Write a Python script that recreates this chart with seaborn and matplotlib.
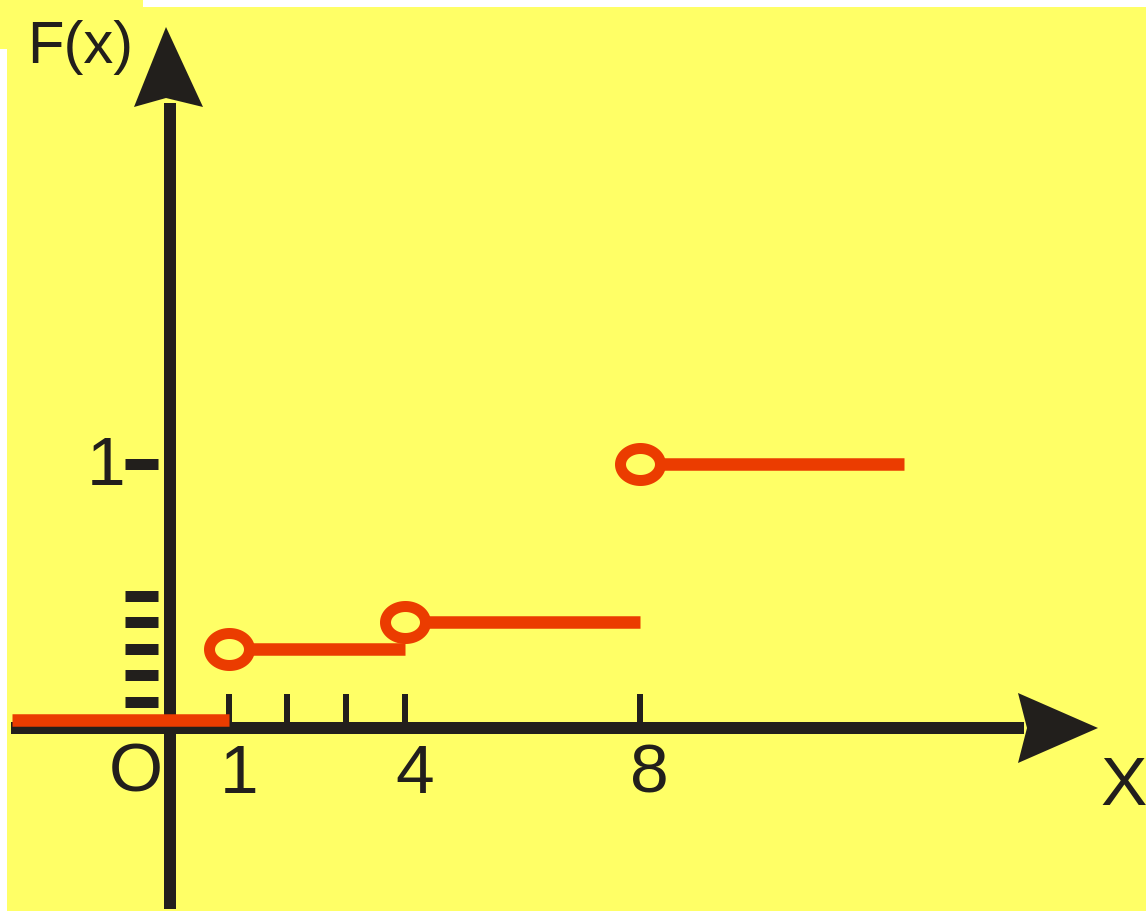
import numpy as np
import matplotlib
matplotlib.use("Agg")
import matplotlib.pyplot as plt
import matplotlib.transforms as mtransforms
from matplotlib import font_manager
from matplotlib.lines import Line2D
from matplotlib.path import Path
from matplotlib.patches import Polygon, Rectangle
import seaborn as sns

# Distribution function F(x) of a discrete random variable
jump_points = [1, 4, 8]
cdf_levels = [0.0, 0.3, 0.4, 1.0]
x_ticks = [1, 2, 3, 4, 8]
x_tick_labels = {1: "1", 4: "4", 8: "8"}
y_ticks = [0.1, 0.2, 0.3, 0.4, 0.5, 1.0]
y_tick_labels = {1.0: "1"}
x_start, x_end = -2.7, 12.5

W, H = 1146, 912
DPI = 100
YELLOW = "#FFFF66"
ORANGE = "#EB3C00"
INK = "#221F1C"
FS = 50


def pts(px):
    """pixels -> points"""
    return px * 72.0 / DPI


sns.set_style("white")
plt.rcParams["font.family"] = ["Liberation Sans", "DejaVu Sans"]

installed = {f.name for f in font_manager.fontManager.ttflist}
narrow = "Liberation Sans Narrow" in installed
name_font = ["Liberation Sans Narrow"] if narrow else ["Liberation Sans", "DejaVu Sans"]
name_fs = FS if narrow else 43

fig = plt.figure(figsize=(W / DPI, H / DPI), dpi=DPI, facecolor="white")

# yellow sheet behind the drawing
fig.patches.append(Rectangle((7 / W, 0), 1 - 7 / W, 1 - 7.5 / H,
                             transform=fig.transFigure, facecolor=YELLOW,
                             edgecolor="none", zorder=-5))
fig.patches.append(Rectangle((0, 1 - 50 / H), 143 / W, 50 / H,
                             transform=fig.transFigure, facecolor=YELLOW,
                             edgecolor="none", zorder=-5))

ax = fig.add_axes([0, 0, 1, 1])
ax.set_facecolor("none")
ax.set_axis_off()
ax.set_zorder(1)

# 58.7 px per unit on x, 264 px per unit on y, origin at (170, 729) px from top-left
XLIM = (-170 / 58.7, (W - 170) / 58.7)
YLIM = ((729 - H) / 264, 729 / 264)
ax.set_xlim(*XLIM)
ax.set_ylim(*YLIM)
ax.set_autoscale_on(False)

# transform for pixel geometry measured from the top-left corner
pix = mtransforms.Affine2D().scale(1, -1).translate(0, H)
ox, oy_disp = ax.transData.transform((0, 0))
oy = H - oy_disp

# coordinate axes with arrow heads
ax_lw = pts(12)
ax.add_line(Line2D([ox, ox], [910, 104], transform=pix, color=INK,
                   lw=ax_lw, solid_capstyle="butt", zorder=2, clip_on=False))
ax.add_line(Line2D([11, 1024], [oy, oy], transform=pix, color=INK,
                   lw=ax_lw, solid_capstyle="butt", zorder=2, clip_on=False))
ax.add_patch(Polygon([(ox - 4, 28), (ox + 33, 108), (ox - 4, 99), (ox - 36, 108)],
                     closed=True, transform=pix, facecolor=INK, edgecolor="none",
                     zorder=2, clip_on=False))
ax.add_patch(Polygon([(1098, oy), (1018, oy - 35), (1027, oy), (1018, oy + 35)],
                     closed=True, transform=pix, facecolor=INK, edgecolor="none",
                     zorder=2, clip_on=False))

# tick marks
ax.vlines(x_ticks, 0, 0.13, color=INK, lw=pts(6), zorder=2)
ax.hlines(y_ticks, -0.77, -0.2, color=INK, lw=pts(11), zorder=2)

# step segments of F(x)
seg_starts = [x_start] + jump_points
seg_ends = jump_points + [x_end]
for i, (a, b, level) in enumerate(zip(seg_starts, seg_ends, cdf_levels)):
    sns.lineplot(x=[a, b], y=[level, level], color=ORANGE, lw=pts(12.5),
                 solid_capstyle="butt", ax=ax, zorder=4)
    if i == 0:
        # lift the zero level just above the x axis so it stays visible
        ax.lines[-1].set_transform(ax.transData + mtransforms.ScaledTranslation(
            0, 8 / DPI, fig.dpi_scale_trans))

# open (hollow) points at the jumps
t = np.linspace(0, 2 * np.pi, 80)
ellipse = Path(np.column_stack([np.cos(t), 0.8 * np.sin(t)]), closed=True)
sns.scatterplot(x=jump_points, y=cdf_levels[1:], marker=ellipse,
                s=pts(40) ** 2, facecolor=YELLOW, edgecolor=ORANGE,
                linewidth=pts(11), ax=ax, zorder=5)

# tick labels
for val, lab in x_tick_labels.items():
    ax.annotate(lab, xy=(val, 0), xytext=(10, -64), textcoords="offset pixels",
                ha="center", va="baseline", fontsize=FS, color=INK)
for val, lab in y_tick_labels.items():
    ax.annotate(lab, xy=(0, val), xytext=(-64, -20), textcoords="offset pixels",
                ha="center", va="baseline", fontsize=FS, color=INK)
ax.annotate("O", xy=(0, 0), xytext=(-34, -63), textcoords="offset pixels",
            ha="center", va="baseline", fontsize=FS, color=INK)

# axis names
ax.text(27, 63, "F(x)", transform=pix, ha="left", va="baseline",
        fontsize=name_fs, color=INK, family=name_font)
ax.text(1124, 805, "X", transform=pix, ha="center", va="baseline",
        fontsize=name_fs if narrow else FS, color=INK, family=name_font)

ax.set_xlim(*XLIM)
ax.set_ylim(*YLIM)

fig.savefig("out.png", dpi=DPI, facecolor="white")
